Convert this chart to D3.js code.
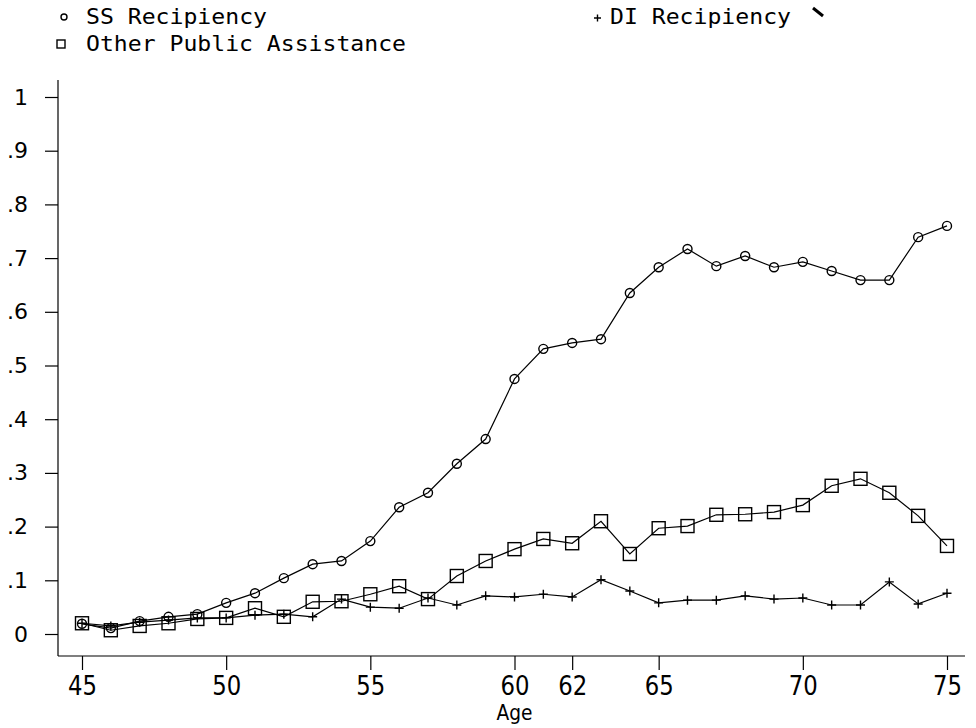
<!doctype html>
<html>

<head>
    <style>
        body { margin: 0; background: #fff; }
        text { font-family: "DejaVu Sans", sans-serif; fill: #000; }
        .legend text { font-family: "DejaVu Sans Mono", monospace; font-size: 21px; }
        .series { fill: none; stroke: #000; stroke-width: 1.2; }
        .marker { fill: none; stroke: #000; stroke-width: 1.4; }
        .axis path, .axis line { stroke: #000; stroke-width: 1.2; }
    </style>
    <script src="https://d3js.org/d3.v7.min.js"></script>
</head>

<body>
    <svg width="976" height="728"></svg>
    <script>
        // ages on the x axis
        var ages = [45, 46, 47, 48, 49, 50, 51, 52, 53, 54, 55, 56, 57, 58, 59, 60,
            61, 62, 63, 64, 65, 66, 67, 68, 69, 70, 71, 72, 73, 74, 75];

        var ssRecip = [0.019, 0.011, 0.024, 0.032, 0.037, 0.058, 0.076, 0.104, 0.130, 0.136, 0.173,
            0.236, 0.263, 0.317, 0.363, 0.475, 0.531, 0.542, 0.549, 0.635, 0.683,
            0.717, 0.685, 0.704, 0.683, 0.693, 0.676, 0.659, 0.659, 0.739, 0.760];

        var diRecip = [0.020, 0.015, 0.022, 0.026, 0.030, 0.030, 0.035, 0.037, 0.032, 0.065, 0.050,
            0.048, 0.067, 0.054, 0.071, 0.069, 0.074, 0.069, 0.101, 0.080, 0.058,
            0.063, 0.063, 0.071, 0.065, 0.067, 0.054, 0.054, 0.097, 0.056, 0.076];

        var otherPA = [0.020, 0.007, 0.015, 0.020, 0.028, 0.030, 0.048, 0.032, 0.060, 0.061, 0.074,
            0.089, 0.065, 0.108, 0.136, 0.158, 0.177, 0.169, 0.210, 0.149, 0.197,
            0.201, 0.222, 0.223, 0.227, 0.240, 0.276, 0.289, 0.263, 0.220, 0.164];

        var xTicks = [45, 50, 55, 60, 62, 65, 70, 75];
        var yTicks = [0, 0.1, 0.2, 0.3, 0.4, 0.5, 0.6, 0.7, 0.8, 0.9, 1];
        var yTickLabels = ["0", ".1", ".2", ".3", ".4", ".5", ".6", ".7", ".8", ".9", "1"];

        var svg = d3.select("svg");

        var x = d3.scaleLinear().domain([45, 75]).range([82, 947]),
            y = d3.scaleLinear().domain([0, 1]).range([634, 97]);

        var axisX = 58, axisY = 656;

        // y axis
        var gy = svg.append("g")
            .attr("class", "axis")
            .attr("transform", "translate(" + axisX + ",0)")
            .call(d3.axisLeft(y).tickValues(yTicks)
                .tickFormat(function (d, i) { return yTickLabels[i]; })
                .tickSize(13).tickSizeOuter(0).tickPadding(17));
        gy.select(".domain").remove();
        gy.selectAll("text").attr("font-size", 22).attr("font-family", "DejaVu Sans");
        svg.append("line")
            .attr("x1", axisX).attr("x2", axisX)
            .attr("y1", y(1) - 17).attr("y2", axisY)
            .attr("stroke", "#000").attr("stroke-width", 1.2);

        // x axis
        var gx = svg.append("g")
            .attr("class", "axis")
            .attr("transform", "translate(0," + axisY + ")")
            .call(d3.axisBottom(x).tickValues(xTicks).tickSize(14).tickSizeOuter(0).tickPadding(6));
        gx.select(".domain").remove();
        gx.selectAll("text")
            .attr("font-size", 27)
            .attr("font-family", "DejaVu Sans")
            .attr("textLength", 29)
            .attr("lengthAdjust", "spacingAndGlyphs");
        svg.append("line")
            .attr("x1", axisX).attr("x2", x(75) + 18)
            .attr("y1", axisY).attr("y2", axisY)
            .attr("stroke", "#000").attr("stroke-width", 1.2);

        svg.append("text")
            .attr("x", (x(45) + x(75)) / 2)
            .attr("y", 720)
            .attr("text-anchor", "middle")
            .attr("font-size", 22)
            .attr("textLength", 36)
            .attr("lengthAdjust", "spacingAndGlyphs")
            .text("Age");

        var line = d3.line()
            .x(function (d, i) { return x(ages[i]); })
            .y(function (d) { return y(d); });

        // series lines
        [ssRecip, diRecip, otherPA].forEach(function (s) {
            svg.append("path").attr("class", "series").attr("d", line(s));
        });

        // circle markers
        svg.selectAll(".ss").data(ssRecip).enter().append("circle")
            .attr("class", "marker")
            .attr("cx", function (d, i) { return x(ages[i]); })
            .attr("cy", function (d) { return y(d); })
            .attr("r", 4.5);

        // square markers
        var sq = 13;
        svg.selectAll(".opa").data(otherPA).enter().append("rect")
            .attr("class", "marker")
            .attr("x", function (d, i) { return x(ages[i]) - sq / 2; })
            .attr("y", function (d) { return y(d) - sq / 2; })
            .attr("width", sq).attr("height", sq);

        // plus markers
        var ps = 4.5;
        svg.selectAll(".di").data(diRecip).enter().append("path")
            .attr("class", "marker")
            .attr("d", function (d, i) {
                var cx = x(ages[i]), cy = y(d);
                return "M" + (cx - ps) + "," + cy + "H" + (cx + ps) +
                    "M" + cx + "," + (cy - ps) + "V" + (cy + ps);
            });

        // legend
        var lg = svg.append("g").attr("class", "legend");
        lg.append("circle").attr("class", "marker").attr("cx", 64).attr("cy", 17).attr("r", 3);
        lg.append("text").attr("x", 86).attr("y", 24)
            .attr("textLength", 181).attr("lengthAdjust", "spacingAndGlyphs")
            .text("SS Recipiency");
        lg.append("path").attr("class", "marker").attr("stroke-width", 1)
            .attr("d", "M594,18H601M597.5,14.5V21.5");
        lg.append("text").attr("x", 610).attr("y", 24)
            .attr("textLength", 181).attr("lengthAdjust", "spacingAndGlyphs")
            .text("DI Recipiency");
        lg.append("rect").attr("class", "marker").attr("stroke-width", 1.2)
            .attr("x", 57).attr("y", 40).attr("width", 8).attr("height", 8);
        lg.append("text").attr("x", 86).attr("y", 51)
            .attr("textLength", 320).attr("lengthAdjust", "spacingAndGlyphs")
            .text("Other Public Assistance");

        // stray mark at the top right of the scan
        svg.append("path")
            .attr("d", "M813,8L823,16")
            .attr("stroke", "#000").attr("stroke-width", 3);
    </script>
</body>

</html>
